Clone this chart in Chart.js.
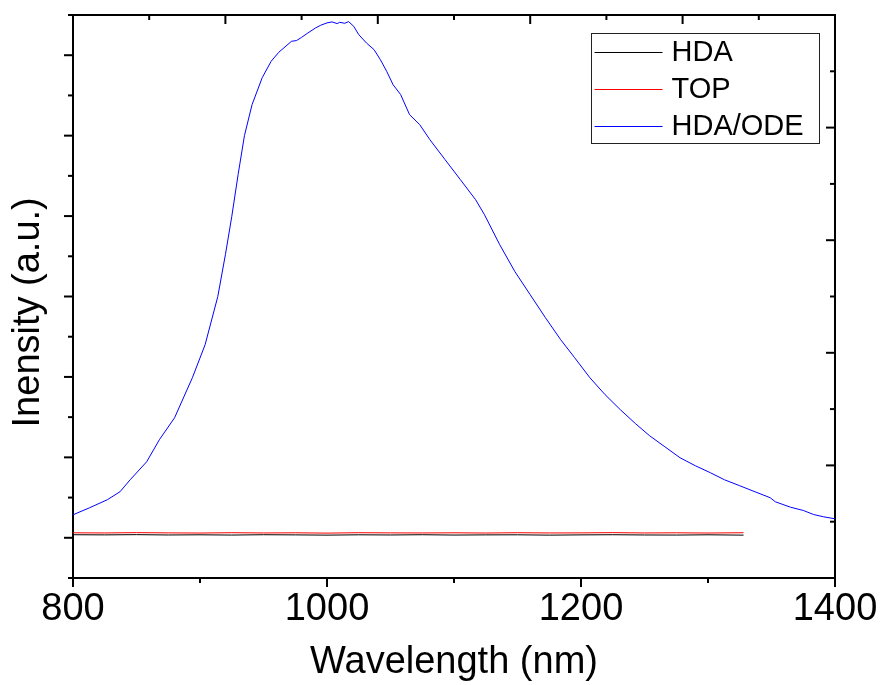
<!DOCTYPE html>
<html>
<head>
<meta charset="utf-8">
<script src="https://cdn.jsdelivr.net/npm/chart.js@4/dist/chart.umd.min.js"></script>
<style>
  body { margin: 0; background: #fff; }
  canvas { display: block; }
</style>
</head>
<body>
<canvas id="chart" width="880" height="685"></canvas>
<script>
// HDA/ODE emission spectrum
const odeWavelength = [
  800, 813, 827, 837, 845, 858, 868, 880, 894, 904, 914, 920, 925, 930, 935, 941,
  949, 956, 962, 972, 976, 980, 985, 991, 995, 1000, 1004, 1008, 1010, 1014, 1017,
  1021, 1025, 1031, 1037, 1042, 1047, 1052, 1058, 1065, 1073, 1081, 1093, 1105,
  1117, 1124, 1136, 1148, 1160, 1172, 1184, 1195, 1207, 1219, 1231, 1243, 1254,
  1266, 1278, 1290, 1302, 1313, 1325, 1337, 1349, 1353, 1365, 1375, 1383, 1391, 1400
];
const odeIntensity = [
  286, 373, 473, 572, 721, 945, 1219, 1493, 1990, 2400, 2998, 3520, 3993, 4515, 5000, 5386,
  5721, 5924, 6036, 6173, 6182, 6222, 6277, 6339, 6372, 6402, 6414, 6393, 6409, 6397, 6418,
  6360, 6256, 6153, 6070, 5945, 5800, 5634, 5510, 5261, 5137, 4950, 4701, 4453,
  4204, 4017, 3644, 3308, 3022, 2736, 2463, 2239, 1990, 1779, 1592, 1418, 1269,
  1132, 995, 896, 808, 721, 647, 572, 498, 448, 380, 340, 290, 261, 236
];

// HDA and TOP samples are flat, measured only up to ~1328 nm
const flatWavelength = [
  800, 825, 850, 875, 900, 925, 950, 975, 1000, 1025, 1050,
  1075, 1100, 1125, 1150, 1175, 1200, 1225, 1250, 1275, 1300, 1328
];
const hdaIntensity = [
  38, 36, 39, 35, 37, 34, 38, 36, 33, 37, 35, 38, 34, 36, 37, 33, 36, 38, 35, 34, 37, 33
];
const topIntensity = [
  62, 60, 64, 61, 59, 63, 60, 62, 58, 63, 61, 60, 62, 59, 63, 60, 61, 64, 60, 62, 59, 63
];

const seriesNames = ['HDA', 'TOP', 'HDA/ODE'];
const seriesColors = ['#000000', '#ff0000', '#0000ff'];

const xTickLabels = [800, 1000, 1200, 1400];

const FONT = "'Liberation Sans', Arial, sans-serif";

const toPoints = (xs, ys) => xs.map((x, i) => ({ x, y: ys[i] }));

// keep the box edges where they are: no label overflow padding
const fixSize = (prop, size) => s => {
  s[prop] = size;
  s.paddingLeft = 0;
  s.paddingRight = 0;
  s.paddingTop = 0;
  s.paddingBottom = 0;
};

// draw tick marks: major/minor lengths, in or out
const tickMarks = {
  id: 'tickMarks',
  afterDraw(chart) {
    const ctx = chart.ctx;
    const { x, y, x2, y2 } = chart.scales;
    const defs = [
      { s: x, from: 800, to: 1400, step: 100, major: 200, dir: 1, horiz: true, edge: x.top },
      { s: y, from: -500, to: 6500, step: 500, major: 1000, dir: -1, horiz: false, edge: y.right },
      { s: x2, from: 0, to: 5, step: 0.5, major: 1, dir: 1, horiz: true, edge: x2.bottom },
      { s: y2, from: 0, to: 5, step: 0.5, major: 1, dir: -1, horiz: false, edge: y2.left },
    ];
    ctx.save();
    ctx.strokeStyle = '#000';
    ctx.lineWidth = 2;
    defs.forEach(d => {
      for (let v = d.from; v <= d.to + 1e-9; v += d.step) {
        const isMajor = Math.abs(v / d.major - Math.round(v / d.major)) < 1e-6;
        const len = isMajor ? 9 : 5;
        const p = d.s.getPixelForValue(v);
        ctx.beginPath();
        if (d.horiz) {
          ctx.moveTo(p, d.edge);
          ctx.lineTo(p, d.edge + d.dir * len);
        } else {
          ctx.moveTo(d.edge, p);
          ctx.lineTo(d.edge + d.dir * len, p);
        }
        ctx.stroke();
      }
    });
    ctx.restore();
  }
};

// boxed legend in the top right of the plot
const boxLegend = {
  id: 'boxLegend',
  afterDraw(chart) {
    const ctx = chart.ctx;
    const area = chart.chartArea;
    const left = area.right - 243.5;
    const top = area.top + 18.5;
    ctx.save();
    ctx.strokeStyle = '#222';
    ctx.lineWidth = 1;
    ctx.strokeRect(left, top, 228, 110);
    ctx.font = '29px ' + FONT;
    ctx.textBaseline = 'middle';
    ctx.fillStyle = '#000';
    chart.data.datasets.forEach((ds, i) => {
      const yy = top + 18.5 + i * 37;
      ctx.strokeStyle = ds.borderColor;
      ctx.beginPath();
      ctx.moveTo(left + 3, Math.round(yy) + 0.5);
      ctx.lineTo(left + 71, Math.round(yy) + 0.5);
      ctx.stroke();
      ctx.fillText(ds.label, left + 80, yy + 1);
    });
    ctx.restore();
  }
};

new Chart(document.getElementById('chart'), {
  type: 'line',
  data: {
    datasets: [
      { label: seriesNames[0], data: toPoints(flatWavelength, hdaIntensity), borderColor: seriesColors[0] },
      { label: seriesNames[1], data: toPoints(flatWavelength, topIntensity), borderColor: seriesColors[1] },
      { label: seriesNames[2], data: toPoints(odeWavelength, odeIntensity), borderColor: seriesColors[2] },
    ]
  },
  options: {
    responsive: false,
    animation: false,
    layout: { padding: 0 },
    elements: {
      point: { radius: 0 },
      line: { borderWidth: 1, tension: 0 }
    },
    plugins: {
      legend: { display: false },
      tooltip: { enabled: false }
    },
    scales: {
      x: {
        type: 'linear',
        position: 'bottom',
        min: 800,
        max: 1400,
        afterFit: fixSize('height', 107),
        afterBuildTicks: s => { s.ticks = xTickLabels.map(v => ({ value: v })); },
        grid: { display: false, drawTicks: false },
        border: { display: true, color: '#000', width: 2 },
        ticks: {
          color: '#000',
          padding: 9,
          maxRotation: 0,
          font: { family: FONT, size: 38 },
          callback: v => String(v)
        },
        title: {
          display: true,
          text: 'Wavelength (nm)',
          color: '#000',
          padding: { top: 0, bottom: 0 },
          font: { family: FONT, size: 38 }
        }
      },
      y: {
        type: 'linear',
        position: 'left',
        min: -500,
        max: 6500,
        afterFit: fixSize('width', 73),
        grid: { display: false, drawTicks: false },
        border: { display: true, color: '#000', width: 2 },
        ticks: { display: false },
        title: {
          display: true,
          text: 'Inensity (a.u.)   ',
          color: '#000',
          padding: { top: 6, bottom: 0 },
          font: { family: FONT, size: 38 }
        }
      },
      x2: {
        type: 'linear',
        position: 'top',
        min: 0,
        max: 5,
        afterFit: fixSize('height', 15),
        grid: { display: false, drawTicks: false },
        border: { display: true, color: '#000', width: 2 },
        ticks: { display: false }
      },
      y2: {
        type: 'linear',
        position: 'right',
        min: 0,
        max: 5,
        afterFit: fixSize('width', 45),
        grid: { display: false, drawTicks: false },
        border: { display: true, color: '#000', width: 2 },
        ticks: { display: false }
      }
    }
  },
  plugins: [tickMarks, boxLegend]
});
</script>
</body>
</html>
